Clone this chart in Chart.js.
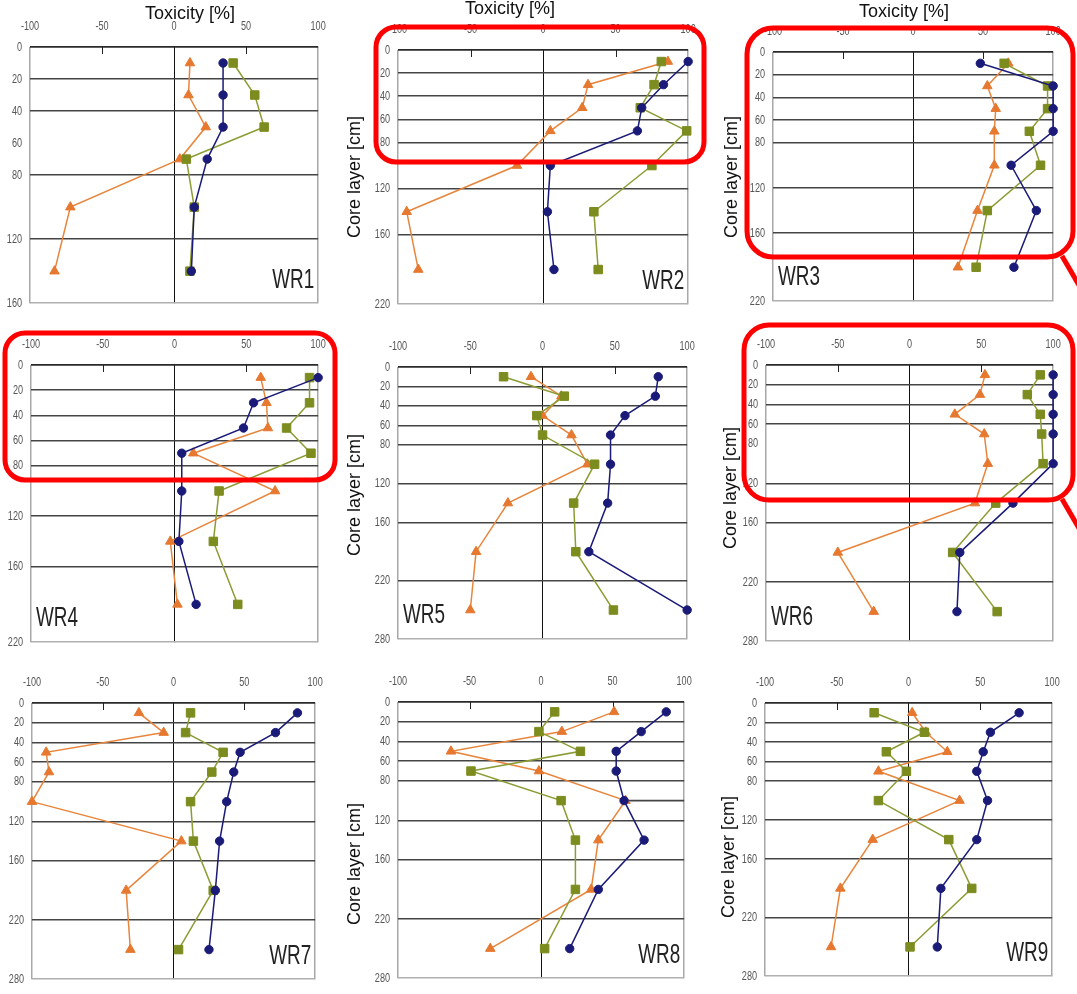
<!DOCTYPE html>
<html>
<head>
<meta charset="utf-8">
<title>Toxicity profiles WR1–WR9</title>
<script src="https://cdn.jsdelivr.net/npm/chart.js@4.4.1/dist/chart.umd.min.js"></script>
<style>
  html, body { margin: 0; padding: 0; background: #fff; }
  body { position: relative; width: 1077px; height: 994px; overflow: hidden;
         font-family: 'Liberation Sans', Arial, Helvetica, sans-serif; }
  canvas { position: absolute; }
  .title { position: absolute; color: #111; font-size: 18px; line-height: 1;
           white-space: nowrap; transform: translate(-50%, -50%); }
  .ytitle { transform: translate(-50%, -50%) rotate(-90deg); }
  #marks { left: 0; top: 0; z-index: 5; pointer-events: none; }
</style>
</head>
<body>
<script>
// ---- sampling depths (cm) ----
const DEPTHS_6 = [10, 30, 50, 70, 100, 140];
const DEPTHS_7 = [10, 30, 50, 70, 100, 140, 190];
const DEPTHS_8 = [10, 30, 50, 70, 100, 140, 190, 250];

// ---- axis ticks ----
const TOX_TICKS = [-100, -50, 0, 50, 100];
const DEPTH_TICKS_160 = [0, 20, 40, 60, 80, 120, 160];
const DEPTH_TICKS_220 = [0, 20, 40, 60, 80, 120, 160, 220];
const DEPTH_TICKS_280 = [0, 20, 40, 60, 80, 120, 160, 220, 280];

// ---- toxicity [%] per core (circle / square / triangle series) ----
const WR1_CIRCLE   = [34, 34, 34, 23, 14, 12];
const WR1_SQUARE   = [41, 56, 62.5, 8.5, 14, 11];
const WR1_TRIANGLE = [11, 10, 22, 4, -72, -83];

const WR2_CIRCLE   = [100, 83, 68, 65, 5, 3, 7.5];
const WR2_SQUARE   = [81.5, 76.5, 67, 99, 75, 35, 38];
const WR2_TRIANGLE = [86, 31, 27, 5, -18, -94, -86];

const WR3_CIRCLE   = [48, 100, 100, 100, 70, 88, 72];
const WR3_SQUARE   = [65, 96, 96, 83, 91, 53, 45];
const WR3_TRIANGLE = [68, 53, 59, 58, 58, 46, 32];

const WR4_CIRCLE   = [100, 55, 48, 5, 5, 3, 15];
const WR4_SQUARE   = [94, 94, 78, 95, 31, 27, 44];
const WR4_TRIANGLE = [60, 64, 65, 13, 70, -3, 2];

const WR5_CIRCLE   = [80, 78, 57, 47, 47, 45, 32, 100];
const WR5_SQUARE   = [-27, 15, -4, 0, 36, 21.5, 23, 49];
const WR5_TRIANGLE = [-8, 13, 0, 20, 31, -24, -46, -50];

const WR6_CIRCLE   = [100, 100, 100, 100, 100, 72, 35, 33];
const WR6_SQUARE   = [91, 82, 91, 92, 93, 60, 30, 61];
const WR6_TRIANGLE = [52.5, 49, 31.5, 52, 54.5, 45.5, -50, -25];

const WR7_CIRCLE   = [87.5, 72, 47, 42.5, 37.5, 32.5, 29.5, 25];
const WR7_SQUARE   = [12, 8.5, 35, 27, 12, 14, 28, 3.5];
const WR7_TRIANGLE = [-24.5, -7, -90, -88, -100, 5.5, -33.5, -30.5];

const WR8_CIRCLE   = [87.5, 70, 52.5, 52.5, 58, 72, 40, 20];
const WR8_SQUARE   = [9.5, -1.5, 27.5, -49, 14, 24, 24, 2.5];
const WR8_TRIANGLE = [51, 14.5, -63, -1.5, 59, 40, 35, -35.5];

const WR9_CIRCLE   = [77, 57, 52, 47.5, 55, 47.5, 22.5, 20];
const WR9_SQUARE   = [-24, 11, -15.5, -1.5, -21, 28, 44, 1];
const WR9_TRIANGLE = [2.5, 12, 27, -21, 35.5, -25, -47.5, -54];

// ---- depth gridlines drawn in each panel ----
const WR1_GRID = [20, 40, 80, 120];
const WR2_GRID = [20, 40, 60, 80, 120, 160];
const WR3_GRID = [20, 40, 60, 80, 120, 160];
const WR4_GRID = [20, 40, 60, 80, 120, 160];
const WR5_GRID = [20, 40, 60, 80, 120, 160, 220];
const WR6_GRID = [20, 40, 60, 120, 160, 220];
const WR7_GRID = [20, 40, 60, 80, 120, 160, 220];
const WR8_GRID = [20, 40, 60, 80, 120, 160, 220];
const WR9_GRID = [20, 40, 60, 80, 120, 160, 220];

// ---- styling ----
const FONT = "'Liberation Sans', Arial, Helvetica, sans-serif";
const BLUE = '#1a1a78';
const GREEN = '#7d8c1e';
const GREEN_LINE = '#8c9c34';
const ORANGE = '#e6782f';
const ORANGE_LINE = '#e8853c';
const SQUEEZE = 0.7;          // horizontal compression of axis / panel text
const PAD_L = 40, PAD_T = 36, PAD_R = 14, PAD_B = 12;

// plot rectangles on the page: [left, top, right, bottom]
const PANELS = [
  { tag: 'WR1', depths: DEPTHS_6, c: WR1_CIRCLE, s: WR1_SQUARE, t: WR1_TRIANGLE, max: 160, ticks: DEPTH_TICKS_160, grid: WR1_GRID, rect: [30, 47, 328, 307], side: 'right' },
  { tag: 'WR2', depths: DEPTHS_7, c: WR2_CIRCLE, s: WR2_SQUARE, t: WR2_TRIANGLE, max: 220, ticks: DEPTH_TICKS_220, grid: WR2_GRID, rect: [398, 50, 698, 308], side: 'right' },
  { tag: 'WR3', depths: DEPTHS_7, c: WR3_CIRCLE, s: WR3_SQUARE, t: WR3_TRIANGLE, max: 220, ticks: DEPTH_TICKS_220, grid: WR3_GRID, rect: [773, 52, 1063, 305], side: 'left' },
  { tag: 'WR4', depths: DEPTHS_7, c: WR4_CIRCLE, s: WR4_SQUARE, t: WR4_TRIANGLE, max: 220, ticks: DEPTH_TICKS_220, grid: WR4_GRID, rect: [31, 365, 328, 646], side: 'left' },
  { tag: 'WR5', depths: DEPTHS_8, c: WR5_CIRCLE, s: WR5_SQUARE, t: WR5_TRIANGLE, max: 280, ticks: DEPTH_TICKS_280, grid: WR5_GRID, rect: [398, 367, 697, 643], side: 'left' },
  { tag: 'WR6', depths: DEPTHS_8, c: WR6_CIRCLE, s: WR6_SQUARE, t: WR6_TRIANGLE, max: 280, ticks: DEPTH_TICKS_280, grid: WR6_GRID, rect: [766, 365, 1063, 645], side: 'left' },
  { tag: 'WR7', depths: DEPTHS_8, c: WR7_CIRCLE, s: WR7_SQUARE, t: WR7_TRIANGLE, max: 280, ticks: DEPTH_TICKS_280, grid: WR7_GRID, rect: [32, 703, 325, 983], side: 'right' },
  { tag: 'WR8', depths: DEPTHS_8, c: WR8_CIRCLE, s: WR8_SQUARE, t: WR8_TRIANGLE, max: 280, ticks: DEPTH_TICKS_280, grid: WR8_GRID, rect: [398, 702, 694, 982], side: 'right', stub: { depth: 100, from: 58, to: 100 } },
  { tag: 'WR9', depths: DEPTHS_8, c: WR9_CIRCLE, s: WR9_SQUARE, t: WR9_TRIANGLE, max: 280, ticks: DEPTH_TICKS_280, grid: WR9_GRID, rect: [765, 703, 1062, 980], side: 'right' }
];

// page-level titles
const X_TITLES = [[190, 13], [510, 8], [904, 11]];
const Y_TITLES = [[354, 177], [731, 177], [354, 495], [730, 488], [354, 864], [728, 857]];

// highlighted regions: [x, y, w, h, radius, pointer?]
const HIGHLIGHTS = [
  [376, 27, 328, 135, 20, false],
  [747, 28, 326, 229, 26, true],
  [5, 333, 330, 147, 20, false],
  [744, 325, 329, 175, 25, true]
];

// narrow text rendering: every fillText on the panel canvas is squeezed horizontally
const squeezeText = {
  id: 'squeezeText',
  beforeInit(chart) {
    const ctx = chart.ctx;
    if (ctx.__squeezed) return;
    const orig = ctx.fillText.bind(ctx);
    ctx.fillText = function (text, x, y) {
      this.save();
      this.translate(x, y);
      this.scale(SQUEEZE, 1);
      orig(text, 0, 0);
      this.restore();
    };
    ctx.__squeezed = true;
  }
};

// inner tick marks, partial gridline and the core tag
const panelDecor = {
  id: 'panelDecor',
  beforeDatasetsDraw(chart, args, opts) {
    const { ctx, scales: { x, y } } = chart;
    if (opts.stub) {
      const yy = y.getPixelForValue(opts.stub.depth);
      ctx.save();
      ctx.strokeStyle = '#444';
      ctx.lineWidth = 1.6;
      ctx.beginPath();
      ctx.moveTo(x.getPixelForValue(opts.stub.from), yy);
      ctx.lineTo(x.getPixelForValue(opts.stub.to), yy);
      ctx.stroke();
      ctx.restore();
    }
    ctx.save();
    ctx.strokeStyle = '#222';
    ctx.lineWidth = 1;
    const top = chart.chartArea.top;
    [-50, 50].forEach(v => {
      const xx = Math.round(x.getPixelForValue(v)) + 0.5;
      ctx.beginPath();
      ctx.moveTo(xx, top);
      ctx.lineTo(xx, top + 7);
      ctx.stroke();
    });
    ctx.restore();
  },
  afterDraw(chart, args, opts) {
    const { ctx, chartArea } = chart;
    ctx.save();
    ctx.font = '27px ' + FONT;
    ctx.fillStyle = '#222';
    ctx.textBaseline = 'middle';
    if (opts.side === 'right') {
      ctx.textAlign = 'right';
      ctx.fillText(opts.tag, chartArea.right - 4, chartArea.bottom - 23);
    } else {
      ctx.textAlign = 'left';
      ctx.fillText(opts.tag, chartArea.left + 5, chartArea.bottom - 24);
    }
    ctx.restore();
  }
};

function points(depths, values) {
  return values.map((v, i) => ({ x: v, y: depths[i] }));
}

function buildPanel(p) {
  const [L, T, R, B] = p.rect;
  const cv = document.createElement('canvas');
  const w = R - L + PAD_L + PAD_R;
  const h = B - T + PAD_T + PAD_B;
  cv.width = w; cv.height = h;
  cv.style.left = (L - PAD_L) + 'px';
  cv.style.top = (T - PAD_T) + 'px';
  cv.style.width = w + 'px';
  cv.style.height = h + 'px';
  document.body.appendChild(cv);

  const series = [
    { data: points(p.depths, p.c), borderColor: BLUE, backgroundColor: BLUE, pointStyle: 'circle', pointRadius: 4.2 },
    { data: points(p.depths, p.s), borderColor: GREEN_LINE, backgroundColor: GREEN, pointBorderColor: GREEN, pointStyle: 'rect', pointRadius: 6 },
    { data: points(p.depths, p.t), borderColor: ORANGE_LINE, backgroundColor: ORANGE, pointBorderColor: ORANGE, pointStyle: 'triangle', pointRadius: 5.5 }
  ].map(d => Object.assign({ showLine: true, borderWidth: 1.5, pointBorderWidth: 1, clip: false, tension: 0 }, d));

  new Chart(cv, {
    type: 'scatter',
    data: { datasets: series },
    options: {
      responsive: false,
      animation: false,
      events: [],
      layout: { padding: { left: 0, top: 0, right: PAD_R, bottom: PAD_B } },
      plugins: {
        legend: { display: false },
        tooltip: { enabled: false },
        panelDecor: { tag: p.tag, side: p.side, stub: p.stub || null }
      },
      scales: {
        x: {
          type: 'linear', position: 'top', min: -100, max: 100,
          afterBuildTicks: s => { s.ticks = TOX_TICKS.map(v => ({ value: v })); },
          afterFit: s => { s.height = PAD_T; },
          border: { display: false },
          grid: {
            drawTicks: false,
            color: c => c.tick.value === 0 ? '#111' : (Math.abs(c.tick.value) === 100 ? '#a8a8a8' : 'rgba(0,0,0,0)'),
            lineWidth: c => c.tick.value === 0 ? 1 : 1.5
          },
          ticks: { padding: 13, color: '#555', maxRotation: 0, autoSkip: false, font: { family: FONT, size: 13 } }
        },
        y: {
          type: 'linear', reverse: true, min: 0, max: p.max,
          afterBuildTicks: s => { s.ticks = p.ticks.map(v => ({ value: v })); },
          afterFit: s => { s.width = PAD_L; },
          border: { display: false },
          grid: {
            drawTicks: false,
            color: c => {
              const v = c.tick.value;
              if (v === 0) return '#2a2a2a';
              if (v === p.max) return '#b0b0b0';
              return p.grid.includes(v) ? '#444' : 'rgba(0,0,0,0)';
            },
            lineWidth: c => c.tick.value === 0 ? 1.8 : 1.6
          },
          ticks: { padding: 8, color: '#555', autoSkip: false, font: { family: FONT, size: 13 } }
        }
      }
    },
    plugins: [squeezeText, panelDecor]
  });
}

PANELS.forEach(buildPanel);

X_TITLES.forEach(([cx, cy]) => {
  const d = document.createElement('div');
  d.className = 'title';
  d.textContent = 'Toxicity [%]';
  d.style.left = cx + 'px'; d.style.top = cy + 'px';
  document.body.appendChild(d);
});
Y_TITLES.forEach(([cx, cy]) => {
  const d = document.createElement('div');
  d.className = 'title ytitle';
  d.textContent = 'Core layer [cm]';
  d.style.left = cx + 'px'; d.style.top = cy + 'px';
  document.body.appendChild(d);
});

// red frames around the highlighted depth ranges
const marks = document.createElement('canvas');
marks.id = 'marks';
marks.width = 1077; marks.height = 994;
document.body.appendChild(marks);
const g = marks.getContext('2d');
g.strokeStyle = '#ff0000';
g.lineWidth = 5;
HIGHLIGHTS.forEach(([x, y, w, h, r, pointer]) => {
  g.beginPath();
  g.roundRect(x, y, w, h, r);
  g.stroke();
  if (pointer) {
    g.beginPath();
    g.moveTo(x + w - 11, y + h - 1);
    g.lineTo(x + w + 7, y + h + 30);
    g.stroke();
  }
});
</script>
</body>
</html>
